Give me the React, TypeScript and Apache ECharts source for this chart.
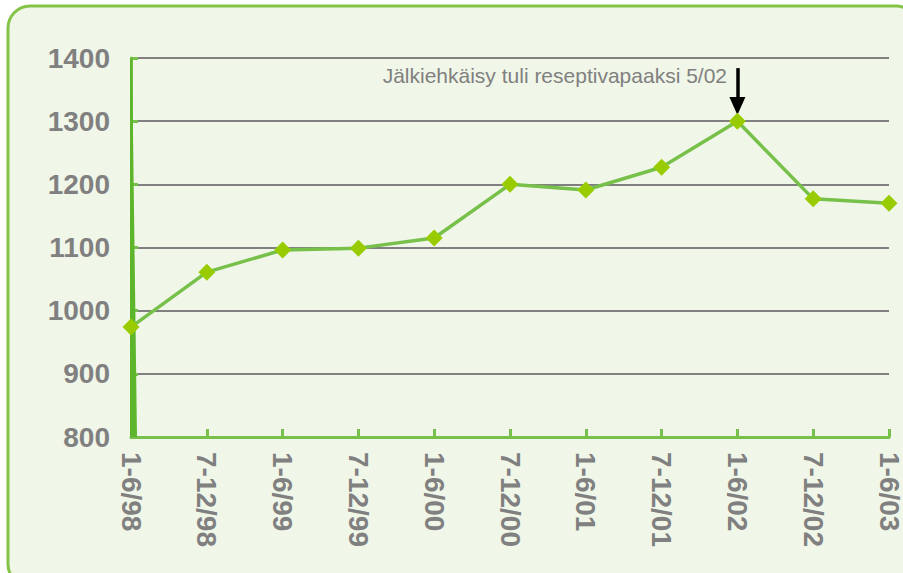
import React, { useEffect, useRef } from "react";
import * as echarts from "echarts";

const categories = [
  "1-6/98", "7-12/98", "1-6/99", "7-12/99", "1-6/00", "7-12/00",
  "1-6/01", "7-12/01", "1-6/02", "7-12/02", "1-6/03",
];
const values = [974, 1061, 1096, 1099, 1115, 1200, 1191, 1227, 1300, 1177, 1170];
const annotationText = "Jälkiehkäisy tuli reseptivapaaksi 5/02";
const annotationCategory = "1-6/02";
const arrowFrom = 1384;
const arrowTo = 1330;
const arrowHeadAt = 1324;
const yMin = 800;
const yMax = 1400;
const yStep = 100;

export default function App() {
  const ref = useRef<HTMLDivElement>(null);
  useEffect(() => {
    if (!ref.current) return;
    const chart = echarts.init(ref.current, null, { renderer: "svg" });
    const font = "'Liberation Sans', Arial, sans-serif";
    chart.setOption({
      animation: false,
      backgroundColor: "#ffffff",
      textStyle: { fontFamily: font },
      graphic: [
        {
          type: "rect",
          z: -10,
          silent: true,
          shape: { x: 8, y: 6, width: 910, height: 580, r: 22 },
          style: { fill: "#f0f6e8", stroke: "#84c348", lineWidth: 3 },
        },
        {
          type: "text",
          right: 903 - 727,
          top: 65,
          z: 10,
          style: {
            text: annotationText,
            fill: "#808080",
            font: `21px ${font}`,
          },
        },
      ],
      grid: { left: 131, right: 10, top: 58, bottom: 136, containLabel: false },
      xAxis: {
        type: "category",
        data: categories,
        boundaryGap: false,
        axisLine: { lineStyle: { color: "#77c14a", width: 3 } },
        axisTick: { show: true, inside: true, length: 8, alignWithLabel: true, lineStyle: { color: "#77c14a", width: 3 } },
        axisLabel: {
          rotate: -90,
          margin: 15,
          color: "#808080",
          fontWeight: "bold",
          fontSize: 28,
          fontFamily: font,
          interval: 0,
        },
        splitLine: { show: false },
      },
      yAxis: {
        type: "value",
        min: yMin,
        max: yMax,
        interval: yStep,
        axisLine: { show: true, lineStyle: { color: "#77c14a", width: 3 } },
        axisTick: { show: true, inside: true, length: 7, lineStyle: { color: "#77c14a", width: 3 } },
        axisLabel: {
          margin: 21,
          color: "#808080",
          fontWeight: "bold",
          fontSize: 28,
          fontFamily: font,
          formatter: (v: number) => String(v),
        },
        splitLine: { show: true, lineStyle: { color: "#808080", width: 2 } },
      },
      series: [
        {
          type: "custom",
          silent: true,
          z: 3,
          data: [[0, yMax, yMin]],
          renderItem: (params: any, api: any) => {
            const top = api.coord([api.value(0), api.value(1)]);
            const bot = api.coord([api.value(0), api.value(2)]);
            return {
              type: "polygon",
              shape: {
                points: [
                  [top[0] - 1, top[1]],
                  [top[0] + 1, top[1]],
                  [bot[0] + 6, bot[1]],
                  [bot[0] - 1, bot[1]],
                ],
              },
              style: { fill: "#5db52c" },
            };
          },
        },
        {
          type: "line",
          data: values,
          z: 5,
          symbol: "diamond",
          symbolSize: 17,
          itemStyle: { color: "#99cc00" },
          lineStyle: { color: "#77c14a", width: 3.5 },
          markLine: {
            silent: true,
            symbol: ["none", "none"],
            label: { show: false },
            lineStyle: { color: "#000000", width: 3.5, type: "solid" },
            data: [
              [
                { coord: [annotationCategory, arrowFrom] },
                { coord: [annotationCategory, arrowTo] },
              ],
            ],
          },
          markPoint: {
            silent: true,
            symbol: "triangle",
            symbolRotate: 180,
            symbolSize: [16, 18],
            itemStyle: { color: "#000000" },
            label: { show: false },
            data: [{ coord: [annotationCategory, arrowHeadAt] }],
          },
        },
      ],
    });
    return () => chart.dispose();
  }, []);
  return (
    <div
      ref={ref}
      style={{ position: "absolute", left: 0, top: 0, width: 903, height: 573 }}
    />
  );
}
